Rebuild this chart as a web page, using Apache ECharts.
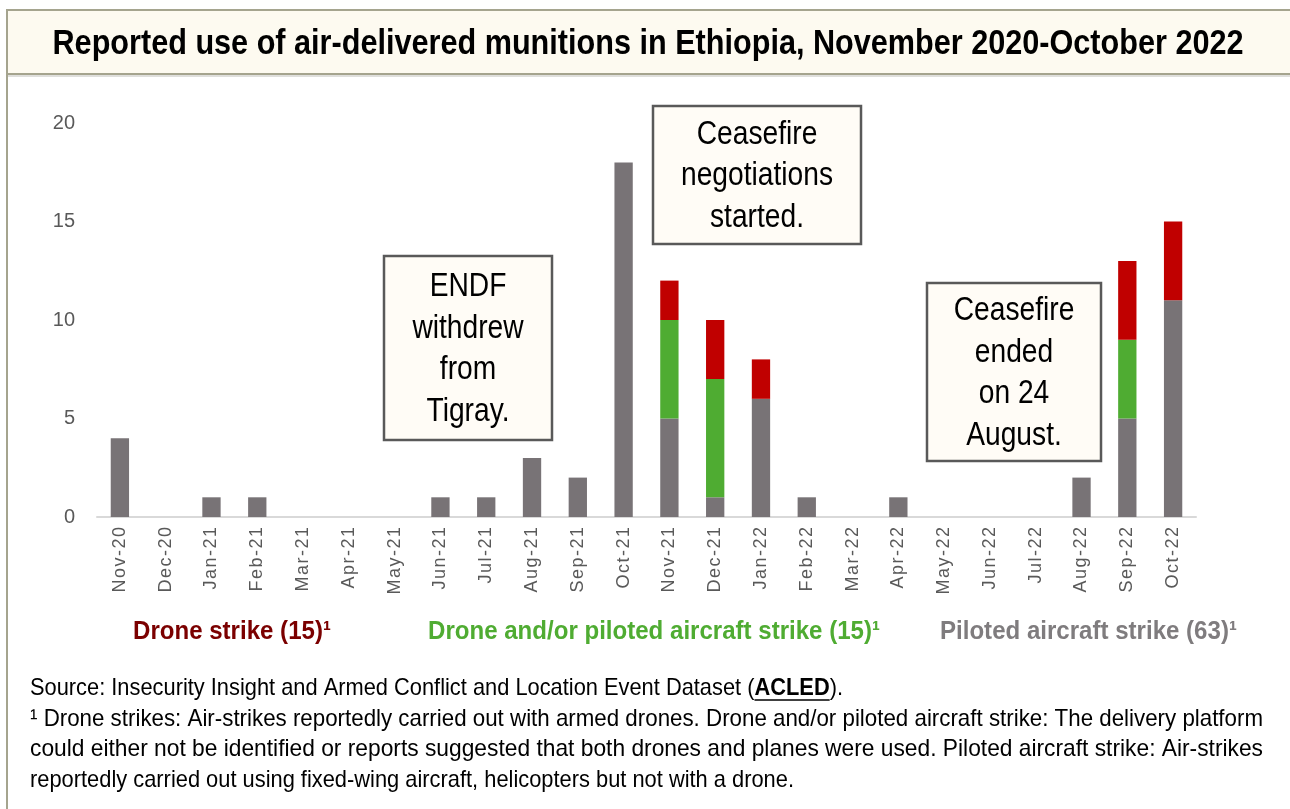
<!DOCTYPE html>
<html>
<head>
<meta charset="utf-8">
<script src="https://cdn.jsdelivr.net/npm/echarts@6/dist/echarts.min.js"></script>
<style>
  html, body { margin: 0; padding: 0; background: #fff; }
  #chart { width: 1290px; height: 809px; }
</style>
</head>
<body>
<div id="chart"></div>
<script>
const months = ['Nov-20', 'Dec-20', 'Jan-21', 'Feb-21', 'Mar-21', 'Apr-21', 'May-21', 'Jun-21',
  'Jul-21', 'Aug-21', 'Sep-21', 'Oct-21', 'Nov-21', 'Dec-21', 'Jan-22', 'Feb-22', 'Mar-22',
  'Apr-22', 'May-22', 'Jun-22', 'Jul-22', 'Aug-22', 'Sep-22', 'Oct-22'];
const piloted = [4, 0, 1, 1, 0, 0, 0, 1, 1, 3, 2, 18, 5, 1, 6, 1, 0, 1, 0, 0, 0, 2, 5, 11];
const droneOrPiloted = [0, 0, 0, 0, 0, 0, 0, 0, 0, 0, 0, 0, 5, 6, 0, 0, 0, 0, 0, 0, 0, 0, 4, 0];
const drone = [0, 0, 0, 0, 0, 0, 0, 0, 0, 0, 0, 0, 2, 3, 2, 0, 0, 0, 0, 0, 0, 0, 4, 4];
const yTicks = [0, 5, 10, 15, 20];

// no Arial Narrow here, so Liberation Sans gets squeezed with scaleX
const SANS = "'Liberation Sans', Arial, sans-serif";

const chart = echarts.init(document.getElementById('chart'));

const ctx = document.createElement('canvas').getContext('2d');
const measure = (txt, size, bold) => {
  ctx.font = (bold ? 'bold ' : '') + size + 'px ' + SANS;
  return ctx.measureText(txt).width;
};
const fit = (txt, size, bold, target) => target / measure(txt, size, bold);

// squeezed text element
const narrowText = (x, y, text, size, opts) => {
  opts = opts || {};
  return {
    type: 'text', x: x, y: y, scaleX: opts.scale || 0.82,
    style: {
      text: text, fontFamily: SANS, fontSize: size, fontWeight: opts.bold ? 'bold' : 'normal',
      fill: opts.color || '#000', align: opts.align || 'left', verticalAlign: 'middle',
      lineHeight: opts.lineHeight
    }
  };
};

const boxFont = 34;
const boxScale = fit('negotiations', boxFont, false, 152);
const noteBox = (x, y, w, h, text) => ({
  type: 'group',
  x: x, y: y,
  children: [
    { type: 'rect', shape: { x: 0, y: 0, width: w, height: h },
      style: { fill: '#fffcf6', stroke: '#595959', lineWidth: 2.5 } },
    narrowText(w / 2, h / 2 + 1, text, boxFont, { scale: boxScale, align: 'center', lineHeight: 41.5 })
  ]
});

const titleText = 'Reported use of air-delivered munitions in Ethiopia, November 2020-October 2022';
const titleScale = fit(titleText, 35, true, 1191);

const legendItems = [
  { text: 'Drone strike (15)¹', x: 133, w: 225, color: '#7b0000' },
  { text: 'Drone and/or piloted aircraft strike (15)¹', x: 428, w: 452, color: '#4fac32' },
  { text: 'Piloted aircraft strike (63)¹', x: 940, w: 295, color: '#7f7c7e' }
];
const legendScale = fit(legendItems[1].text, 26, true, legendItems[1].w);

// footnotes
const fn = 24;
const srcA = 'Source: Insecurity Insight and Armed Conflict and Location Event Dataset (';
const srcAW = measure(srcA, fn, false);
const acledW = measure('ACLED', fn, true);
const srcEndW = measure(').', fn, false);
const srcScale = 813 / (srcAW + acledW + srcEndW);
const fnLines = [
  '¹ Drone strikes: Air-strikes reportedly carried out with armed drones. Drone and/or piloted aircraft strike: The delivery platform',
  'could either not be identified or reports suggested that both drones and planes were used. Piloted aircraft strike: Air-strikes',
  'reportedly carried out using fixed-wing aircraft, helicopters but not with a drone.'
];
const fnTargets = [1233, 1233, 764];
const fnY = [719, 749, 780];

const spaced = s => s.split('').join('\u200A');

const option = {
  backgroundColor: '#fff',
  animation: false,
  grid: { left: 97, right: 94, top: 123, bottom: 292 },
  xAxis: {
    type: 'category',
    data: months,
    axisTick: { show: false },
    axisLine: { lineStyle: { color: '#d9d9d9', width: 2 } },
    axisLabel: { rotate: 90, interval: 0, color: '#595959', fontFamily: SANS, fontSize: 18, margin: 10,
      formatter: v => spaced(v) }
  },
  yAxis: {
    type: 'value',
    min: yTicks[0], max: yTicks[yTicks.length - 1], interval: 5,
    splitLine: { show: false },
    axisLine: { show: false },
    axisTick: { show: false },
    axisLabel: { color: '#595959', fontFamily: SANS, fontSize: 20, margin: 22 }
  },
  series: [
    { name: 'Piloted aircraft strike', type: 'bar', stack: 'all', data: piloted,
      barWidth: '40%', itemStyle: { color: '#787376' } },
    { name: 'Drone and/or piloted aircraft strike', type: 'bar', stack: 'all', data: droneOrPiloted,
      itemStyle: { color: '#4fac32' } },
    { name: 'Drone strike', type: 'bar', stack: 'all', data: drone,
      itemStyle: { color: '#c00000' } }
  ],
  graphic: [
    // frame + title band
    { type: 'line', shape: { x1: 7, y1: 10, x2: 7, y2: 809 }, style: { stroke: '#a5a48e', lineWidth: 2 } },
    { type: 'rect', shape: { x: 7, y: 10, width: 1290, height: 64 },
      style: { fill: '#fdfaf0', stroke: '#a5a48e', lineWidth: 2 } },
    { type: 'line', shape: { x1: 8, y1: 76, x2: 1290, y2: 76 }, style: { stroke: '#d4d4d0', lineWidth: 1.5 } },
    narrowText(648, 44, titleText, 35, { bold: true, scale: titleScale, align: 'center' }),

    // annotations
    noteBox(384, 256, 168, 184, 'ENDF\nwithdrew\nfrom\nTigray.'),
    noteBox(653, 106, 208, 138, 'Ceasefire\nnegotiations\nstarted.'),
    noteBox(927, 283, 174, 178, 'Ceasefire\nended\non 24\nAugust.'),

    // legend
    ...legendItems.map(it => narrowText(it.x, 632, it.text, 26, { bold: true, scale: legendScale, color: it.color })),

    // source line with underlined ACLED
    narrowText(30, 688, srcA, fn, { scale: srcScale }),
    narrowText(30 + srcScale * srcAW, 688, 'ACLED', fn, { scale: srcScale, bold: true }),
    { type: 'line', shape: { x1: 30 + srcScale * srcAW, y1: 700, x2: 30 + srcScale * (srcAW + acledW), y2: 700 },
      style: { stroke: '#000', lineWidth: 1.5 } },
    narrowText(30 + srcScale * (srcAW + acledW), 688, ').', fn, { scale: srcScale }),
    ...fnLines.map((t, i) => narrowText(30, fnY[i], t, fn, { scale: fit(t, fn, false, fnTargets[i]) }))
  ]
};

chart.setOption(option);
</script>
</body>
</html>
